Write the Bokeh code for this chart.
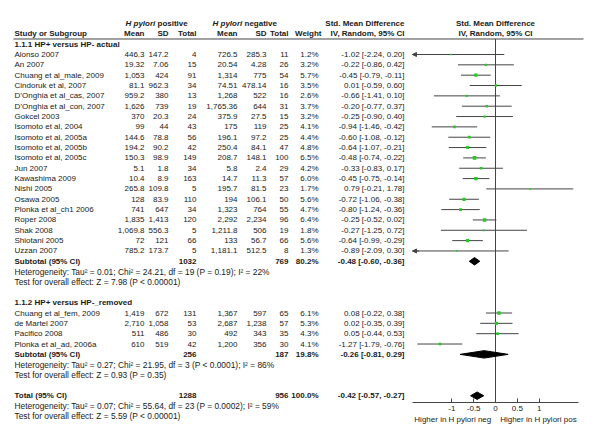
from bokeh.plotting import figure
from bokeh.models import Range1d, FixedTicker, Arrow, NormalHead, ColumnDataSource, LinearAxis
from bokeh.core.properties import value
from bokeh.embed import file_html
from bokeh.resources import INLINE

# ---------------- data ----------------
g1_studies = ["Alonso 2007", "An 2007", "Chuang et al_male, 2009", "Cindoruk et al, 2007",
              "D\u2019Onghia et al_cas, 2007", "D\u2019Onghia et al_con, 2007", "Gokcel 2003",
              "Isomoto et al, 2004", "Isomoto et al, 2005a", "Isomoto et al, 2005b",
              "Isomoto et al, 2005c", "Jun 2007", "Kawashima 2009", "Nishi 2005", "Osawa 2005",
              "Plonka et al_ch1 2006", "Roper 2008", "Shak 2008", "Shiotani 2005", "Uzzan 2007"]
g1_pos_mean = ["446.3", "19.32", "1,053", "81.1", "959.2", "1,626", "370", "99", "144.6", "194.2",
               "150.3", "5.1", "10.4", "265.8", "128", "741", "1,835", "1,069.8", "72", "785.2"]
g1_pos_sd = ["147.2", "7.06", "424", "962.3", "380", "739", "20.3", "44", "78.8", "90.2",
             "98.9", "1.8", "8.9", "109.8", "83.9", "647", "1,413", "556.3", "121", "173.7"]
g1_pos_n = [4, 15, 91, 34, 13, 19, 24, 43, 56, 42, 149, 34, 163, 5, 110, 34, 120, 5, 66, 5]
g1_neg_mean = ["726.5", "20.54", "1,314", "74.51", "1,268", "1,765.36", "375.9", "175", "196.1", "250.4",
               "208.7", "5.8", "14.7", "195.7", "194", "1,323", "2,292", "1,211.8", "133", "1,181.1"]
g1_neg_sd = ["285.3", "4.28", "775", "478.14", "522", "644", "27.5", "119", "97.2", "84.1",
             "148.1", "2.4", "11.3", "81.5", "106.1", "764", "2,234", "506", "56.7", "512.5"]
g1_neg_n = [11, 26, 54, 16, 16, 31, 15, 25, 25, 47, 100, 29, 57, 23, 50, 55, 96, 19, 66, 8]
g1_weight = [1.2, 3.2, 5.7, 3.5, 2.6, 3.7, 3.2, 4.1, 4.4, 4.8, 6.5, 4.2, 6.0, 1.7, 5.6, 4.7, 6.4, 1.8, 5.6, 1.3]
g1_smd = [-1.02, -0.22, -0.45, 0.01, -0.66, -0.20, -0.25, -0.94, -0.60, -0.64,
          -0.48, -0.33, -0.45, 0.79, -0.72, -0.80, -0.25, -0.27, -0.64, -0.89]
g1_lo = [-2.24, -0.86, -0.79, -0.59, -1.41, -0.77, -0.90, -1.46, -1.08, -1.07,
         -0.74, -0.83, -0.75, -0.21, -1.06, -1.24, -0.52, -1.25, -0.99, -2.09]
g1_hi = [0.20, 0.42, -0.11, 0.60, 0.10, 0.37, 0.40, -0.42, -0.12, -0.21,
         -0.22, 0.17, -0.14, 1.78, -0.38, -0.36, 0.02, 0.72, -0.29, 0.30]

g2_studies = ["Chuang et al_fem, 2009", "de Martel 2007", "Pacifico 2008", "Plonka et al_ad, 2006a"]
g2_pos_mean = ["1,419", "2,710", "511", "610"]
g2_pos_sd = ["672", "1,058", "486", "519"]
g2_pos_n = [131, 53, 30, 42]
g2_neg_mean = ["1,367", "2,687", "492", "1,200"]
g2_neg_sd = ["597", "1,238", "343", "356"]
g2_neg_n = [65, 57, 35, 30]
g2_weight = [6.1, 5.3, 4.3, 4.1]
g2_smd = [0.08, 0.02, 0.05, -1.27]
g2_lo = [-0.22, -0.35, -0.44, -1.79]
g2_hi = [0.38, 0.39, 0.53, -0.76]

sub_labels = ["Subtotal (95% CI)", "Subtotal (95% CI)", "Total (95% CI)"]
sub_pos_n = [1032, 256, 1288]
sub_neg_n = [769, 187, 956]
sub_weight = [80.2, 19.8, 100.0]
sub_smd = [-0.48, -0.26, -0.42]
sub_lo = [-0.60, -0.81, -0.57]
sub_hi = [-0.36, 0.29, -0.27]

group_titles = ["1.1.1 HP+ versus HP- actual", "1.1.2 HP+ versus HP-_removed"]
heterogeneity = ["Heterogeneity: Tau\u00b2 = 0.01; Chi\u00b2 = 24.21, df = 19 (P = 0.19); I\u00b2 = 22%",
                 "Heterogeneity: Tau\u00b2 = 0.27; Chi\u00b2 = 21.95, df = 3 (P < 0.0001); I\u00b2 = 86%",
                 "Heterogeneity: Tau\u00b2 = 0.07; Chi\u00b2 = 55.64, df = 23 (P = 0.0002); I\u00b2 = 59%"]
overall_test = ["Test for overall effect: Z = 7.98 (P < 0.00001)",
                "Test for overall effect: Z = 0.93 (P = 0.35)",
                "Test for overall effect: Z = 5.59 (P < 0.00001)"]

tick_values = [-1, -0.5, 0, 0.5, 1]
tick_labels = ["-1", "-0.5", "0", "0.5", "1"]
axis_left_text = "Higher in H pylori neg"
axis_right_text = "Higher in H pylori pos"

# ---------------- layout constants ----------------
FONT = "Liberation Sans"
FS = "8px"
FS_NOTE = "8.4px"
TEXT = "#1a1a1a"
LINE = "#444444"
GREEN = "#22cc22"
ROW0 = 54.0      # picture y of the first study row
ROWH = 10.34     # row pitch in px
W, H = 584, 425
ZERO_PX = 495.0  # picture x of SMD = 0
UNIT_PX = 43.68  # px per SMD unit
XMIN, XMAX = -1.9, 1.9
AXIS_Y = 402

def r2(y_px):
    return (y_px - ROW0) / ROWH

def s2(x_px):
    return (x_px - ZERO_PX) / UNIT_PX

# row indices
g1_rows = list(range(0, len(g1_studies)))
sub_rows = [20, 29, 33]
het_rows = [21, 30, 34]
test_rows = [22, 31, 35]
title_rows = [-1, 24]
g2_rows = list(range(25, 25 + len(g2_studies)))

studies = g1_studies + g2_studies
rows_all = g1_rows + g2_rows
pos_mean = g1_pos_mean + g2_pos_mean
pos_sd = g1_pos_sd + g2_pos_sd
pos_n = g1_pos_n + g2_pos_n
neg_mean = g1_neg_mean + g2_neg_mean
neg_sd = g1_neg_sd + g2_neg_sd
neg_n = g1_neg_n + g2_neg_n
weight = g1_weight + g2_weight
smd = g1_smd + g2_smd
lo = g1_lo + g2_lo
hi = g1_hi + g2_hi

# column right edges (picture px)
C_NAME = 14
C_PM, C_PS, C_PN = 144, 168, 196
C_NM, C_NS, C_NN = 237, 266, 288
C_W = 318
C_CI = 404

def ci_str(e, l, h):
    return f"{e:.2f} [{l:.2f}, {h:.2f}]"

p = figure(width=W, height=H, output_backend="svg", toolbar_location=None,
           x_range=Range1d(0, W), y_range=Range1d(r2(H), r2(0)),
           x_axis_type=None, y_axis_type=None, min_border=0)
p.extra_x_ranges = {"smd": Range1d(s2(0), s2(W))}
p.outline_line_color = None
p.grid.visible = False

def txt(xs, ys, texts, align="left", style="normal", rng="default", size=FS):
    p.text(x=xs, y=ys, text=[str(t) for t in texts], text_align=align, text_baseline="middle",
           text_font=value(FONT), text_font_size=size, text_font_style=style, text_color=TEXT,
           x_range_name=rng)

hdr1, hdr2 = -3, -2
txt([125], [hdr1], ["H pylori"], style="bold italic")
txt([157], [hdr1], ["positive"], style="bold")
txt([212], [hdr1], ["H pylori"], style="bold italic")
txt([244], [hdr1], ["negative"], style="bold")
txt([C_CI], [hdr1], ["Std. Mean Difference"], align="right", style="bold")
txt([C_NAME], [hdr2], ["Study or Subgroup"], style="bold")
txt([C_PM, C_PS, C_PN, C_NM, C_NS, C_NN, C_W + 3, C_CI], [hdr2] * 8,
    ["Mean", "SD", "Total", "Mean", "SD", "Total", "Weight", "IV, Random, 95% CI"],
    align="right", style="bold")
txt([0, 0], [hdr1, hdr2], ["Std. Mean Difference", "IV, Random, 95% CI"], align="center",
    style="bold", rng="smd")
p.segment(x0=[C_NAME - 1], y0=[-1.5], x1=[583], y1=[-1.5], line_color=LINE, line_width=1)

txt([C_NAME] * 2, title_rows, group_titles, style="bold")
txt([C_NAME] * len(studies), rows_all, studies)
txt([C_PM] * len(studies), rows_all, pos_mean, align="right")
txt([C_PS] * len(studies), rows_all, pos_sd, align="right")
txt([C_PN] * len(studies), rows_all, pos_n, align="right")
txt([C_NM] * len(studies), rows_all, neg_mean, align="right")
txt([C_NS] * len(studies), rows_all, neg_sd, align="right")
txt([C_NN] * len(studies), rows_all, neg_n, align="right")
txt([C_W] * len(studies), rows_all, [f"{w:.1f}%" for w in weight], align="right")
txt([C_CI] * len(studies), rows_all, [ci_str(e, l, h) for e, l, h in zip(smd, lo, hi)], align="right")

txt([C_NAME] * 3, sub_rows, sub_labels, style="bold")
txt([C_PN] * 3, sub_rows, sub_pos_n, align="right", style="bold")
txt([C_NN] * 3, sub_rows, sub_neg_n, align="right", style="bold")
txt([C_W] * 3, sub_rows, [f"{w:.1f}%" for w in sub_weight], align="right", style="bold")
txt([C_CI] * 3, sub_rows, [ci_str(e, l, h) for e, l, h in zip(sub_smd, sub_lo, sub_hi)],
    align="right", style="bold")
txt([C_NAME] * 3, het_rows, heterogeneity, size=FS_NOTE)
txt([C_NAME] * 3, test_rows, overall_test, size=FS_NOTE)

# ---------------- forest part ----------------
ax = LinearAxis(x_range_name="smd", ticker=FixedTicker(ticks=tick_values),
                bounds=(XMIN, XMAX), fixed_location=r2(AXIS_Y))
ax.major_label_overrides = {v: s for v, s in zip(tick_values, tick_labels)}
ax.minor_tick_line_color = None
ax.major_tick_in = 4
ax.major_tick_out = 0
ax.axis_line_color = LINE
ax.major_tick_line_color = LINE
ax.major_label_text_font = FONT
ax.major_label_text_font_size = FS
ax.major_label_text_color = TEXT
ax.major_label_standoff = 3
ax.axis_label = axis_left_text + "\u00a0\u00a0\u00a0\u00a0" + axis_right_text
ax.axis_label_text_font = FONT
ax.axis_label_text_font_size = FS
ax.axis_label_text_font_style = "normal"
ax.axis_label_text_color = TEXT
ax.axis_label_standoff = 1
p.add_layout(ax, "below")

p.segment(x0=[0], y0=[-1.5], x1=[0], y1=[r2(AXIS_Y)], line_color=LINE, line_width=1,
          x_range_name="smd")

seg_lo = [max(v, XMIN) for v in lo]
seg_hi = [min(v, XMAX) for v in hi]
p.segment(x0=seg_lo, y0=rows_all, x1=seg_hi, y1=rows_all, line_color=LINE, line_width=1,
          x_range_name="smd")

clipped = [(r, v) for r, v, raw in zip(rows_all, seg_lo, lo) if raw < XMIN]
if clipped:
    csrc = ColumnDataSource(dict(xs=[v + 0.15 for r, v in clipped], xe=[v for r, v in clipped],
                                 y=[r for r, v in clipped]))
    p.add_layout(Arrow(end=NormalHead(size=4, fill_color=LINE, line_color=LINE),
                       x_start="xs", y_start="y", x_end="xe", y_end="y", x_range_name="smd",
                       line_color=LINE, line_width=1, source=csrc))

p.scatter(x=smd, y=rows_all, size=[1.0 + 0.4 * w for w in weight], marker="square",
          fill_color=GREEN, line_color=None, x_range_name="smd")

DH = 0.36
dx = [[l, e, h, e] for e, l, h in zip(sub_smd, sub_lo, sub_hi)]
dy = [[r, r - DH, r, r + DH] for r in sub_rows]
p.patches(xs=dx, ys=dy, fill_color="black", line_color="black", line_width=1, x_range_name="smd")

open("out.html", "w").write(file_html(p, INLINE))
